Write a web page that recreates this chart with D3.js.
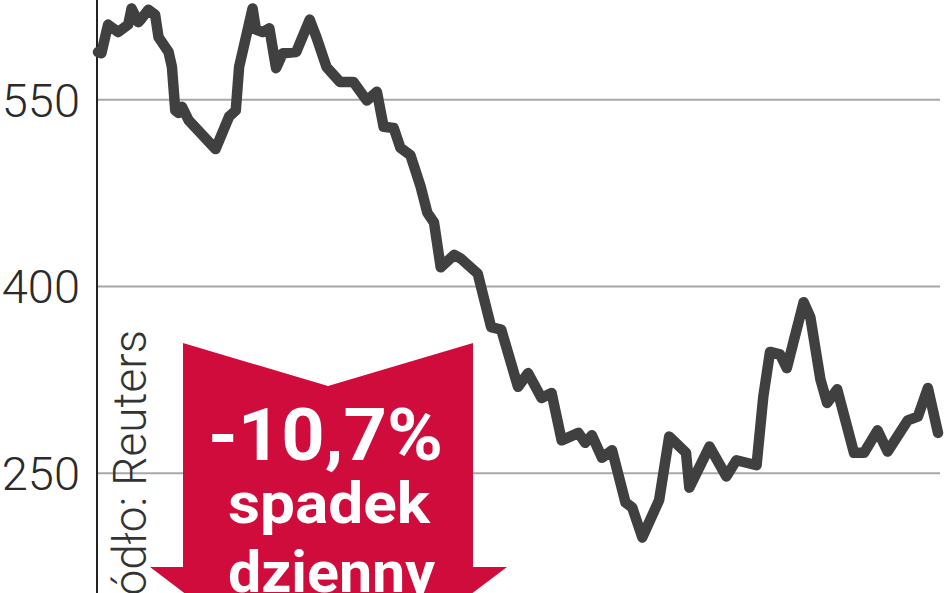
<!DOCTYPE html>
<html>
<head>
<meta charset="utf-8">
<script src="https://cdn.jsdelivr.net/npm/d3@7"></script>
<style>
  html, body { margin: 0; padding: 0; background: #ffffff; }
  svg { display: block; }
</style>
</head>
<body>
<svg id="chart" width="948" height="593"></svg>
<script>
// ---- data ----
const days = [0,1,3,4,6,9,10,12,13,15,17,18,21,22,23,24,25,27,35,39,41,42,46,47,49,51,53,55,59,63,65,68,72,76,80,83,85,88,90,93,96,98,100,102,106,108,113,117,120,125,128,132,135,138,143,145,147,150,153,157,159,162,167,170,175,176,182,187,190,196,198,200,203,205,210,212,215,217,220,225,228,232,235,241,244,247,250];
const prices = [588,587,610,608,604,610,623,612,615,622,618,600,588,576,541,539,544,533,510,536,541,576,623,606,604,607,575,587,588,614,600,576,564,564,549,556,528,527,511,505,480,459,451,415,425,422,410,367,365,319,330,310,314,276,282,274,280,262,268,226,222,198,228,279,266,238,271,247,260,256,311,347,345,334,387,375,325,306,317,266,266,284,267,292,295,318,282];
const tickValues = [250, 400, 550];
const tickLabels = ["250", "400", "550"];
const badgeLines = ["-10,7%", "spadek", "dzienny"];
const sourceText = "Źródło: Reuters";

// ---- layout ----
const svg = d3.select("#chart");
const axisX = 97, gridEnd = 940;
const x = d3.scaleLinear().domain([0, 250]).range([98, 938]);
const y = d3.scaleLinear().domain([250, 550]).range([472.7, 99.3]);

// gridlines + labels via axis
const axis = d3.axisLeft(y)
  .tickValues(tickValues)
  .tickFormat((d, i) => tickLabels[i])
  .tickSizeInner(-(gridEnd - axisX))
  .tickSizeOuter(0)
  .tickPadding(17);
const gAxis = svg.append("g").attr("transform", `translate(${axisX},0)`).call(axis);
gAxis.select(".domain").remove();
gAxis.selectAll(".tick line").attr("stroke", "#a8a8a8").attr("stroke-width", 2);
gAxis.selectAll(".tick text")
  .attr("fill", "#2a2a2a")
  .attr("font-family", "Roboto, 'DejaVu Sans', sans-serif")
  .attr("font-weight", 300)
  .attr("font-size", 47)
  .attr("dy", "0.36em");

// vertical axis line
svg.append("line")
  .attr("x1", axisX).attr("x2", axisX)
  .attr("y1", 0).attr("y2", 593)
  .attr("stroke", "#222").attr("stroke-width", 2);

// source text (rotated)
svg.append("text")
  .attr("transform", "translate(146,330) rotate(-90)")
  .attr("text-anchor", "end")
  .attr("font-family", "Roboto, 'DejaVu Sans', sans-serif")
  .attr("font-weight", 300)
  .attr("font-size", 46)
  .attr("fill", "#333")
  .text(sourceText);

// red arrow badge
const arrowPts = [[183,343],[328,386],[473,343],[473,567],[507,567],[328,702],[150,567],[183,567]];
svg.append("path")
  .attr("d", d3.line()(arrowPts) + "Z")
  .attr("fill", "#d00c3c");

const badge = svg.append("g")
  .attr("font-family", "Roboto, 'DejaVu Sans', sans-serif")
  .attr("font-weight", 700)
  .attr("fill", "#ffffff");
const badgeSpecs = [
  {x: 208, y: 460, size: 72, len: 235},
  {x: 228, y: 523, size: 58, len: 202},
  {x: 228, y: 592, size: 58, len: 207}
];
badgeSpecs.forEach((s, i) => {
  badge.append("text")
    .attr("x", s.x).attr("y", s.y)
    .attr("font-size", s.size)
    .attr("textLength", s.len)
    .attr("lengthAdjust", "spacingAndGlyphs")
    .text(badgeLines[i]);
});

// price line
const line = d3.line().x((d, i) => x(days[i])).y(d => y(d));
svg.append("path")
  .datum(prices)
  .attr("d", line)
  .attr("fill", "none")
  .attr("stroke", "#404040")
  .attr("stroke-width", 10.5)
  .attr("stroke-linejoin", "round")
  .attr("stroke-linecap", "round");
</script>
</body>
</html>
